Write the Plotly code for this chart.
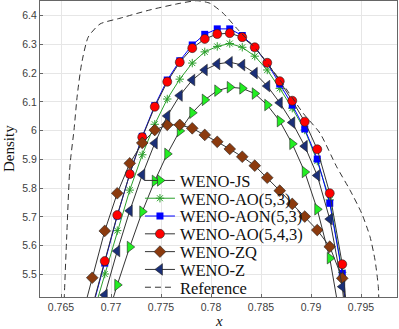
import plotly.graph_objects as go

# cell centres (i+0.5)/800, i = 613..635
x_cells = [0.766875, 0.768125, 0.769375, 0.770625, 0.771875, 0.773125, 0.774375,
           0.775625, 0.776875, 0.778125, 0.779375, 0.780625, 0.781875, 0.783125,
           0.784375, 0.785625, 0.786875, 0.788125, 0.789375, 0.790625, 0.791875,
           0.793125, 0.794375]

weno_js = [None, 5.18, 5.323, 5.463, 5.595, 5.718, 5.825, 5.919, 5.999, 6.062, 6.107,
           6.139, 6.151, 6.147, 6.129, 6.089, 6.033, 5.954, 5.856, 5.726, 5.556, 5.306, None]
weno_ao53 = [None, 5.351, 5.501, 5.652, 5.793, 5.916, 6.022, 6.110, 6.179, 6.235, 6.274,
             6.293, 6.303, 6.290, 6.259, 6.211, 6.147, 6.078, 6.002, 5.894, 5.759, 5.507, 5.10]
weno_aon53 = [None, 5.38, 5.539, 5.703, 5.849, 5.980, 6.087, 6.176, 6.243, 6.298, 6.335,
              6.354, 6.354, 6.331, 6.289, 6.234, 6.162, 6.089, 6.006, 5.901, 5.747, 5.503, 5.10]
weno_ao543 = [None, 5.386, 5.546, 5.706, 5.849, 5.977, 6.083, 6.170, 6.238, 6.287, 6.319,
              6.336, 6.339, 6.325, 6.290, 6.236, 6.172, 6.104, 6.031, 5.935, 5.782, 5.535, 5.10]
weno_zq = [5.323, 5.488, 5.651, 5.782, 5.886, 5.957, 6.002, 6.020, 6.020, 6.008, 5.985,
           5.961, 5.936, 5.909, 5.878, 5.836, 5.791, 5.745, 5.701, 5.654, 5.596, 5.486, 5.10]
weno_z = [None, 5.275, 5.428, 5.581, 5.721, 5.846, 5.956, 6.051, 6.122, 6.176, 6.211,
          6.232, 6.238, 6.228, 6.200, 6.155, 6.097, 6.028, 5.946, 5.844, 5.692, 5.457, 5.05]

# reference solution (dashed)
ref_x = [0.7653, 0.76533, 0.76557, 0.7659, 0.7663, 0.76663, 0.76707, 0.76773, 0.7689,
         0.7709, 0.7739, 0.7769, 0.7786, 0.7799, 0.78123, 0.78257, 0.78457, 0.7869,
         0.78923, 0.7909, 0.79257, 0.7939, 0.79507, 0.7959, 0.7964, 0.79673, 0.7968]
ref_y = [5.376, 5.421, 5.630, 5.880, 6.002, 6.124, 6.235, 6.326, 6.371,
         6.391, 6.420, 6.443, 6.452, 6.443, 6.408, 6.356, 6.281, 6.176,
         6.060, 5.991, 5.874, 5.793, 5.712, 5.631, 5.550, 5.457, 5.376]

x_ticks = [0.765, 0.77, 0.775, 0.78, 0.785, 0.79, 0.795]
x_ticktext = ['0.765', '0.77', '0.775', '0.78', '0.785', '0.79', '0.795']
y_ticks = [5.5, 5.6, 5.7, 5.8, 5.9, 6.0, 6.1, 6.2, 6.3, 6.4]
y_ticktext = ['5.5', '5.6', '5.7', '5.8', '5.9', '6', '6.1', '6.2', '6.3', '6.4']

dark = '#333333'
fig = go.Figure()

fig.add_trace(go.Scatter(x=x_cells, y=weno_js, name='WENO-JS', mode='lines+markers',
                         legend='legend',
                         line=dict(color=dark, width=1),
                         marker=dict(symbol='triangle-right', size=10, color='#22ee22',
                                     line=dict(color='#222222', width=0.6))))
fig.add_trace(go.Scatter(x=x_cells, y=weno_ao53, name='WENO-AO(5,3)', mode='lines+markers',
                         legend='legend2',
                         line=dict(color='#2ca02c', width=1),
                         marker=dict(symbol='asterisk-open', size=7,
                                     line=dict(color='#2ca02c', width=1))))
fig.add_trace(go.Scatter(x=x_cells, y=weno_aon53, name='WENO-AON(5,3)', mode='lines+markers',
                         legend='legend3',
                         line=dict(color='#0000ff', width=1),
                         marker=dict(symbol='square', size=7, color='#0000ff',
                                     line=dict(color='#0000ff', width=0))))
fig.add_trace(go.Scatter(x=x_cells, y=weno_ao543, name='WENO-AO(5,4,3)', mode='lines+markers',
                         legend='legend4',
                         line=dict(color=dark, width=1),
                         marker=dict(symbol='circle', size=9, color='#ff0000',
                                     line=dict(color='#222222', width=0.6))))
fig.add_trace(go.Scatter(x=x_cells, y=weno_zq, name='WENO-ZQ', mode='lines+markers',
                         legend='legend5',
                         line=dict(color=dark, width=1),
                         marker=dict(symbol='diamond', size=9, color='#8b3a0e',
                                     line=dict(color='#222222', width=0.6))))
fig.add_trace(go.Scatter(x=x_cells, y=weno_z, name='WENO-Z', mode='lines+markers',
                         legend='legend6',
                         line=dict(color=dark, width=1),
                         marker=dict(symbol='triangle-left', size=10, color='#1a2f78',
                                     line=dict(color='#222222', width=0.6))))
fig.add_trace(go.Scatter(x=ref_x, y=ref_y, name='Reference', mode='lines',
                         legend='legend7',
                         line=dict(color='#333333', width=1, dash='6px,4px', shape='spline',
                                   smoothing=0.6)))

# one legend box per row so the row pitch matches the original
row_px = [180.7, 198.5, 216.3, 234.1, 251.9, 269.7, 287.5]
legend_names = ['legend', 'legend2', 'legend3', 'legend4', 'legend5', 'legend6', 'legend7']
legend_font = dict(family='Liberation Serif', size=16.5, color='#111111')
for name, py in zip(legend_names, row_px):
    fig.update_layout({name: dict(x=0.28, y=(297 - py) / 296, xanchor='left', yanchor='middle',
                                  bgcolor='rgba(0,0,0,0)', borderwidth=0,
                                  font=legend_font, itemwidth=30)})

fig.update_layout(
    width=399, height=329,
    margin=dict(l=40, r=2, t=1, b=32),
    paper_bgcolor='white', plot_bgcolor='white',
    font=dict(family='Liberation Sans', size=10.5, color='#404040'),
    showlegend=True,
    xaxis=dict(range=[0.7629, 0.7986], tickvals=x_ticks, ticktext=x_ticktext,
               showgrid=True, gridcolor='#e6e6e6', zeroline=False,
               showline=True, mirror=True, linecolor='#666666', linewidth=1,
               ticks='inside', ticklen=3, tickcolor='#666666'),
    yaxis=dict(range=[5.421, 6.451], tickvals=y_ticks, ticktext=y_ticktext,
               showgrid=True, gridcolor='#e6e6e6', zeroline=False,
               showline=True, mirror=True, linecolor='#666666', linewidth=1,
               ticks='inside', ticklen=3, tickcolor='#666666'),
    annotations=[
        dict(text='<i>x</i>', xref='paper', yref='paper', x=0.5, y=0, yshift=-24,
             xanchor='center', yanchor='middle', showarrow=False,
             font=dict(family='Liberation Serif', size=15, color='#111111')),
        dict(text='Density', xref='paper', yref='paper', x=0, y=0.5, xshift=-31,
             xanchor='center', yanchor='middle', textangle=-90, showarrow=False,
             font=dict(family='Liberation Serif', size=15, color='#111111')),
    ],
)

# drop the default body margin so the figure sits at the page origin
fig.write_html("out.html", config={'displayModeBar': False},
               post_script="document.body.style.margin='0';")
